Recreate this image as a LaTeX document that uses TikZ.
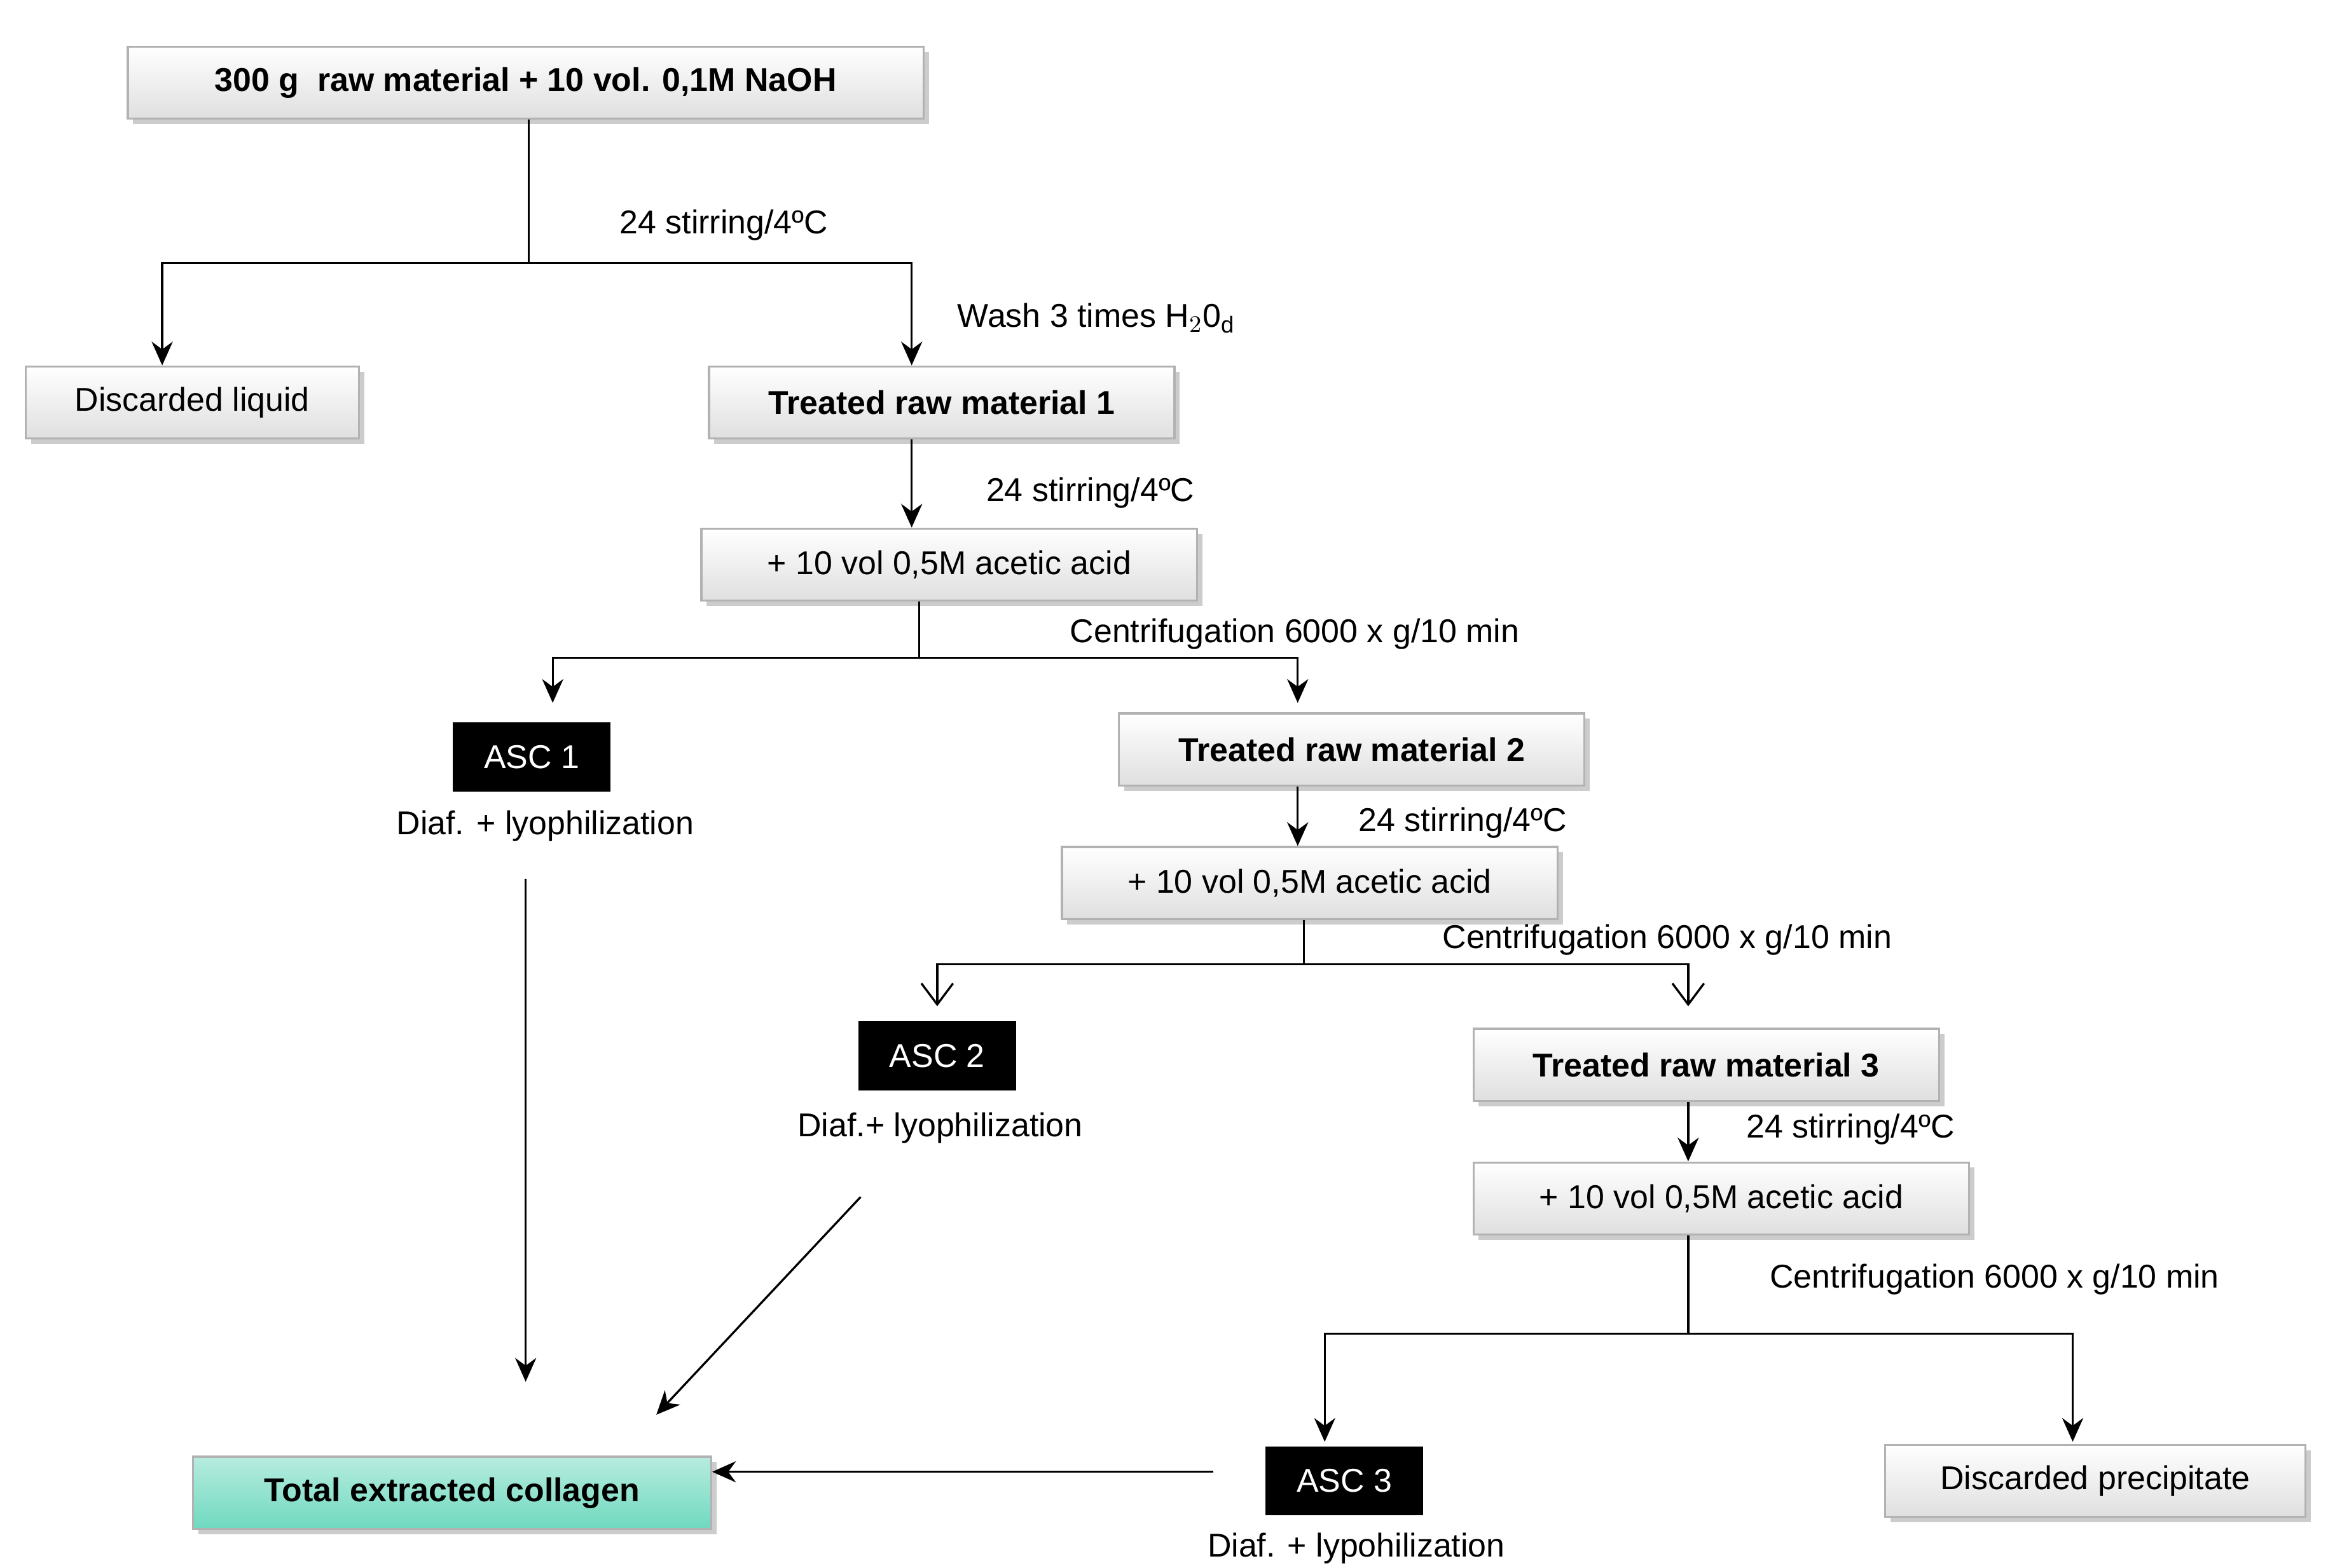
\documentclass[tikz,border=0pt]{standalone}
\usepackage{fontspec}
\setmainfont{Liberation Sans}
\usetikzlibrary{shadows,arrows.meta}
\definecolor{collag}{HTML}{6FD9BF}
\begin{document}
\begin{tikzpicture}[x=0.02cm, y=-0.02cm, >={Stealth[length=9pt,width=8pt]}, thick, font=\fontsize{12.5}{14}\selectfont]
	\tikzstyle{bloc} = [rectangle, draw=gray!60, top color=white, bottom color=gray!25, drop shadow={shadow xshift=2pt, shadow yshift=-2pt, opacity=0.4}, minimum height=0.96cm, inner sep=2pt]
	\tikzstyle{asc} = [rectangle, fill=black, text=white, minimum width=2.1cm, minimum height=0.92cm]
	\tikzstyle{lbl} = [inner sep=1pt]
	\useasboundingbox (0,0) rectangle (1550,1044);
	\node[bloc, minimum width=10.6cm, font=\fontsize{12.5}{14}\selectfont\bfseries] (raw) at (350,55) {300 g\ \ raw material + 10 vol. 0,1M NaOH};
	\node[bloc, minimum width=4.44cm] (liq) at (128,268) {Discarded liquid};
	\node[bloc, minimum width=6.2cm, font=\fontsize{12.5}{14}\selectfont\bfseries] (trm1) at (627,268) {Treated raw material 1};
	\node[bloc, minimum width=6.6cm] (acid1) at (632,376) {+ 10 vol 0,5M acetic acid};
	\node[asc] (asc1) at (354,504) {ASC 1};
	\node[lbl] (diaf1) at (363,550) {Diaf. + lyophilization};
	\node[bloc, minimum width=6.2cm, font=\fontsize{12.5}{14}\selectfont\bfseries] (trm2) at (900,499) {Treated raw material 2};
	\node[bloc, minimum width=6.6cm] (acid2) at (872,588) {+ 10 vol 0,5M acetic acid};
	\node[asc] (asc2) at (624,703) {ASC 2};
	\node[lbl] (diaf2) at (626,751) {Diaf.+ lyophilization};
	\node[bloc, minimum width=6.2cm, font=\fontsize{12.5}{14}\selectfont\bfseries] (trm3) at (1136,709) {Treated raw material 3};
	\node[bloc, minimum width=6.6cm] (acid3) at (1146,798) {+ 10 vol 0,5M acetic acid};
	\node[asc] (asc3) at (895,986) {ASC 3};
	\node[lbl] (diaf3) at (903,1031) {Diaf. + lypohilization};
	\node[bloc, minimum width=5.6cm] (prec) at (1395,986) {Discarded precipitate};
	\node[bloc, minimum width=6.9cm, top color=collag!50, bottom color=collag, font=\fontsize{12.5}{14}\selectfont\bfseries] (total) at (301,994) {Total extracted collagen};
	% labels
	\node[lbl] at (482,150) {24 stirring/4ºC};
	\node[lbl] at (730,212) {Wash 3 times H$_2$0$_\mathrm{d}$};
	\node[lbl] at (726,328) {24 stirring/4ºC};
	\node[lbl] at (862,422) {Centrifugation 6000 x g/10 min};
	\node[lbl] at (974,548) {24 stirring/4ºC};
	\node[lbl] at (1110,626) {Centrifugation 6000 x g/10 min};
	\node[lbl] at (1232,752) {24 stirring/4ºC};
	\node[lbl] at (1328,852) {Centrifugation 6000 x g/10 min};
	% branches
	\coordinate (s0) at (352,175);
	\coordinate (s1) at (612,438);
	\coordinate (s2) at (868,642);
	\coordinate (s3) at (1124,888);
	\draw (raw.south -| s0) -- (s0);
	\draw[->] (s0) -| (liq.north -| 108,0);
	\draw[->] (s0) -| (trm1.north -| 607,0);
	\draw[->] (trm1.south -| 607,0) -- (acid1.north -| 607,0);
	\draw (acid1.south -| s1) -- (s1);
	\draw[->] (s1) -| (368,468);
	\draw[->] (s1) -| (864,468);
	\draw[->] (trm2.south -| 864,0) -- (acid2.north -| 864,0);
	\draw (acid2.south -| s2) -- (s2);
	\draw[-{Straight Barb[length=8pt,width=12pt]}] (s2) -| (624,670);
	\draw[-{Straight Barb[length=8pt,width=12pt]}] (s2) -| (1124,670);
	\draw[->] (trm3.south -| 1124,0) -- (acid3.north -| 1124,0);
	\draw (acid3.south -| s3) -- (s3);
	\draw[->] (s3) -| (882,960);
	\draw[->] (s3) -| (1380,960);
	% collection
	\coordinate (c1a) at (350,585);
	\coordinate (c1b) at (350,920);
	\coordinate (c2a) at (573,797);
	\coordinate (c2b) at (437,942);
	\coordinate (c3a) at (808,980);
	\draw[->] (c1a) -- (c1b);
	\draw[->] (c2a) -- (c2b);
	\draw[->] (c3a) -- (total.east |- c3a);
\end{tikzpicture}
\end{document}
